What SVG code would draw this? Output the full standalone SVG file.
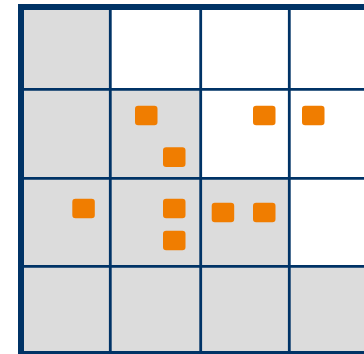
<svg xmlns="http://www.w3.org/2000/svg" width="364" height="354" viewBox="0 0 364 354">
<style>
.g{fill:#dcdcdc}
.w{fill:#ffffff}
.ln{stroke:#003366;stroke-width:2.8;fill:none}
.bd{stroke:#003366;stroke-width:6;fill:none}
.sq{fill:#f07d00}
</style>
<rect x="0" y="0" width="364" height="354" fill="#ffffff"/>
<g id="cells">
<rect class="g" x="21" y="7" width="89.3" height="82.3"/>
<rect class="g" x="21" y="89.3" width="89.3" height="89"/>
<rect class="g" x="110.3" y="89.3" width="90.4" height="89"/>
<rect class="g" x="21" y="178.3" width="89.3" height="88"/>
<rect class="g" x="110.3" y="178.3" width="90.4" height="88"/>
<rect class="g" x="200.7" y="178.3" width="88.6" height="88"/>
<rect class="g" x="21" y="266.3" width="343" height="88"/>
</g>
<g id="grid">
<line class="ln" x1="110.3" y1="7" x2="110.3" y2="354"/>
<line class="ln" x1="200.7" y1="7" x2="200.7" y2="354"/>
<line class="ln" x1="289.3" y1="7" x2="289.3" y2="354"/>
<line class="ln" x1="21" y1="89.3" x2="364" y2="89.3"/>
<line class="ln" x1="21" y1="178.3" x2="364" y2="178.3"/>
<line class="ln" x1="21" y1="266.3" x2="364" y2="266.3"/>
<line class="bd" x1="21" y1="4" x2="21" y2="354"/>
<line class="bd" x1="18" y1="7" x2="364" y2="7"/>
<line class="bd" x1="18" y1="354" x2="364" y2="354"/>
</g>
<g id="sq1"><rect class="sq" x="135" y="105.7" width="22.5" height="19.6" rx="3.2"/></g>
<g id="sq2"><rect class="sq" x="163" y="147.3" width="22.5" height="19.6" rx="3.2"/></g>
<g id="sq3"><rect class="sq" x="163" y="198.7" width="22.5" height="19.6" rx="3.2"/></g>
<g id="sq4"><rect class="sq" x="163" y="230.7" width="22.5" height="19.6" rx="3.2"/></g>
<g id="sq5"><rect class="sq" x="253" y="105.7" width="22.5" height="19.6" rx="3.2"/></g>
<g id="sq6"><rect class="sq" x="302" y="105.7" width="22.5" height="19.6" rx="3.2"/></g>
<g id="sq7"><rect class="sq" x="211.7" y="202.7" width="22.5" height="19.6" rx="3.2"/></g>
<g id="sq8"><rect class="sq" x="253" y="202.7" width="22.5" height="19.6" rx="3.2"/></g>
<g id="sq9"><rect class="sq" x="72.3" y="198.7" width="22.5" height="19.6" rx="3.2"/></g>
</svg>
